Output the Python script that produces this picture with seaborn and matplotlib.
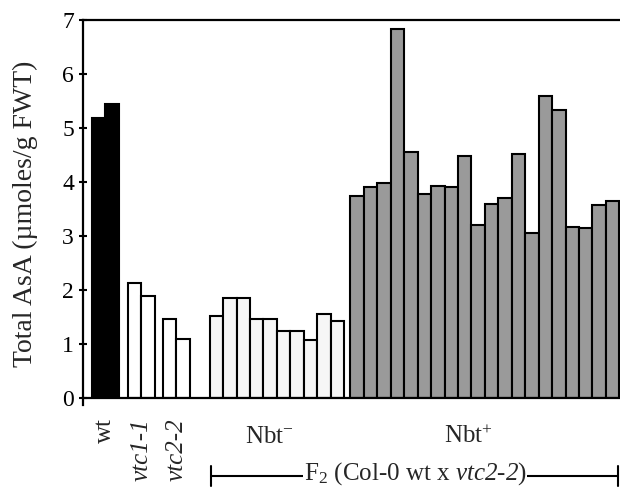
import numpy as np
import pandas as pd
import matplotlib
matplotlib.use("Agg")
import matplotlib.pyplot as plt
import matplotlib.transforms as mtransforms
from matplotlib.lines import Line2D
import seaborn as sns

# ---- data ----
wt_vals = [5.19, 5.44]
vtc1_vals = [2.13, 1.88]
vtc2_vals = [1.47, 1.10]
nbt_minus_vals = [1.52, 1.86, 1.86, 1.47, 1.47, 1.24, 1.24, 1.08, 1.55, 1.42]
nbt_plus_vals = [3.74, 3.91, 3.98, 6.83, 4.55, 3.77, 3.93, 3.90, 4.49, 3.21,
                 3.60, 3.71, 4.51, 3.05, 5.60, 5.34, 3.16, 3.15, 3.57, 3.65]
groups = ["wt", "vtc1-1", "vtc2-2", "Nbt-", "Nbt+"]
yticks = [0, 1, 2, 3, 4, 5, 6, 7]

# ---- layout ----
group_values = [wt_vals, vtc1_vals, vtc2_vals, nbt_minus_vals, nbt_plus_vals]
group_starts = [0.67, 3.35, 5.95, 9.42, 19.9]
colors = {"wt": "black", "vtc1-1": "white", "vtc2-2": "white",
          "Nbt-": "#f6f6f6", "Nbt+": "#9a9a9a"}

rows = []
for g, start, vals in zip(groups, group_starts, group_values):
    for i, v in enumerate(vals):
        rows.append({"x": round(start + i + 0.5, 4), "value": v, "group": g})
df = pd.DataFrame(rows)

sns.set_style("ticks")
plt.rcParams["font.family"] = ["Liberation Serif", "DejaVu Serif"]
plt.rcParams["mathtext.fontset"] = "custom"
plt.rcParams["mathtext.rm"] = "Liberation Serif"
plt.rcParams["mathtext.it"] = "Liberation Serif:italic"
plt.rcParams["mathtext.bf"] = "Liberation Serif:italic"

fig = plt.figure(figsize=(6.2, 4.9), dpi=100)
W, H = 620, 490
ax = fig.add_axes([83 / W, (H - 398) / H, (W - 83) / W, (398 - 20) / H])

sns.barplot(data=df, x="x", y="value", hue="group", palette=colors,
            native_scale=True, width=1.0, dodge=False, saturation=1,
            edgecolor="black", linewidth=1.5, errorbar=None, legend=False, ax=ax)

ax.set_xlim(0, 39.95)
ax.set_ylim(0, 7)
ax.set_yticks(yticks)
ax.set_xticks([])
ax.set_xlabel("")
ax.set_ylabel("")
ax.tick_params(axis="y", direction="inout", length=6, width=1.5,
               labelsize=17, pad=3.5, colors="black")
for s in ["left", "bottom", "top"]:
    ax.spines[s].set_linewidth(1.6)
    ax.spines[s].set_color("black")
ax.spines["right"].set_visible(False)
ax.spines["left"].set_bounds(-0.13, 7)

# y label
fig.text(25 / W, 1 - 214 / H, "Total AsA (µmoles/g FWT)", rotation=90,
         ha="center", va="center", fontsize=20)

# group labels
trans = mtransforms.blended_transform_factory(ax.transData, fig.transFigure)
rot_labels = [("wt", "normal"), ("vtc1-1", "italic"), ("vtc2-2", "italic")]
for (lab, style), start, vals in zip(rot_labels, group_starts[:3], group_values[:3]):
    ax.text(start + len(vals) / 2, 1 - 418 / H, lab, rotation=90, ha="center",
            va="top", fontsize=18, style=style, transform=trans, clip_on=False)

ax.text(13.85, 1 - 443 / H, r"Nbt$^{-}$", ha="center", va="baseline",
        fontsize=18, transform=trans, clip_on=False)
ax.text(28.7, 1 - 443 / H, r"Nbt$^{+}$", ha="center", va="baseline",
        fontsize=18, transform=trans, clip_on=False)

# F2 bracket
yl = 1 - 476 / H
x_left = group_starts[3] + 0.1
x_right = 39.8
ax.add_line(Line2D([x_left, x_right], [yl, yl], color="black", lw=1.5,
                   transform=trans, clip_on=False))
for xe in (x_left, x_right):
    ax.add_line(Line2D([xe, xe], [yl - 10 / H, yl + 10 / H], color="black",
                       lw=1.5, transform=trans, clip_on=False))
ax.text(24.7, yl + 2 / H, r"F$_2$ (Col-0 wt x $\mathbf{vtc2}$-$\mathbf{2}$)",
        ha="center", va="center", fontsize=18, transform=trans, clip_on=False,
        bbox=dict(facecolor="white", edgecolor="none", pad=0.8))

fig.savefig("out.png", dpi=100)
